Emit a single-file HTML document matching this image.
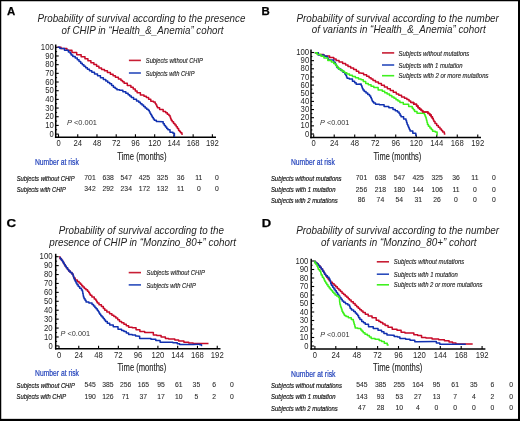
<!DOCTYPE html>
<html><head><meta charset="utf-8"><title>Survival curves</title>
<style>
html,body{margin:0;padding:0;background:#fff;}
body{width:520px;height:421px;overflow:hidden;}
svg{display:block;font-family:"Liberation Sans", sans-serif;will-change:transform;}
</style></head><body>
<svg width="520" height="421" viewBox="0 0 520 421">
<rect x="0" y="0" width="520" height="421" fill="#fff"/>
<line x1="55.70" y1="44.50" x2="55.70" y2="138.05" stroke="#000" stroke-width="1.5"/>
<line x1="54.95" y1="137.30" x2="216.00" y2="137.30" stroke="#000" stroke-width="1.5"/>
<line x1="55.70" y1="134.10" x2="58.70" y2="134.10" stroke="#000" stroke-width="1.1"/>
<text x="53.80" y="136.70" font-size="8.3" text-anchor="end" fill="#262626" textLength="4.2" lengthAdjust="spacingAndGlyphs">0</text>
<line x1="55.70" y1="125.42" x2="58.70" y2="125.42" stroke="#000" stroke-width="1.1"/>
<text x="53.80" y="128.02" font-size="8.3" text-anchor="end" fill="#262626" textLength="8.6" lengthAdjust="spacingAndGlyphs">10</text>
<line x1="55.70" y1="116.74" x2="58.70" y2="116.74" stroke="#000" stroke-width="1.1"/>
<text x="53.80" y="119.34" font-size="8.3" text-anchor="end" fill="#262626" textLength="8.6" lengthAdjust="spacingAndGlyphs">20</text>
<line x1="55.70" y1="108.06" x2="58.70" y2="108.06" stroke="#000" stroke-width="1.1"/>
<text x="53.80" y="110.66" font-size="8.3" text-anchor="end" fill="#262626" textLength="8.6" lengthAdjust="spacingAndGlyphs">30</text>
<line x1="55.70" y1="99.38" x2="58.70" y2="99.38" stroke="#000" stroke-width="1.1"/>
<text x="53.80" y="101.98" font-size="8.3" text-anchor="end" fill="#262626" textLength="8.6" lengthAdjust="spacingAndGlyphs">40</text>
<line x1="55.70" y1="90.70" x2="58.70" y2="90.70" stroke="#000" stroke-width="1.1"/>
<text x="53.80" y="93.30" font-size="8.3" text-anchor="end" fill="#262626" textLength="8.6" lengthAdjust="spacingAndGlyphs">50</text>
<line x1="55.70" y1="82.02" x2="58.70" y2="82.02" stroke="#000" stroke-width="1.1"/>
<text x="53.80" y="84.62" font-size="8.3" text-anchor="end" fill="#262626" textLength="8.6" lengthAdjust="spacingAndGlyphs">60</text>
<line x1="55.70" y1="73.34" x2="58.70" y2="73.34" stroke="#000" stroke-width="1.1"/>
<text x="53.80" y="75.94" font-size="8.3" text-anchor="end" fill="#262626" textLength="8.6" lengthAdjust="spacingAndGlyphs">70</text>
<line x1="55.70" y1="64.66" x2="58.70" y2="64.66" stroke="#000" stroke-width="1.1"/>
<text x="53.80" y="67.26" font-size="8.3" text-anchor="end" fill="#262626" textLength="8.6" lengthAdjust="spacingAndGlyphs">80</text>
<line x1="55.70" y1="55.98" x2="58.70" y2="55.98" stroke="#000" stroke-width="1.1"/>
<text x="53.80" y="58.58" font-size="8.3" text-anchor="end" fill="#262626" textLength="8.6" lengthAdjust="spacingAndGlyphs">90</text>
<line x1="55.70" y1="47.30" x2="58.70" y2="47.30" stroke="#000" stroke-width="1.1"/>
<text x="53.80" y="49.90" font-size="8.3" text-anchor="end" fill="#262626" textLength="13.0" lengthAdjust="spacingAndGlyphs">100</text>
<line x1="55.70" y1="129.76" x2="57.10" y2="129.76" stroke="#000" stroke-width="1.0"/>
<line x1="55.70" y1="121.08" x2="57.10" y2="121.08" stroke="#000" stroke-width="1.0"/>
<line x1="55.70" y1="112.40" x2="57.10" y2="112.40" stroke="#000" stroke-width="1.0"/>
<line x1="55.70" y1="103.72" x2="57.10" y2="103.72" stroke="#000" stroke-width="1.0"/>
<line x1="55.70" y1="95.04" x2="57.10" y2="95.04" stroke="#000" stroke-width="1.0"/>
<line x1="55.70" y1="86.36" x2="57.10" y2="86.36" stroke="#000" stroke-width="1.0"/>
<line x1="55.70" y1="77.68" x2="57.10" y2="77.68" stroke="#000" stroke-width="1.0"/>
<line x1="55.70" y1="69.00" x2="57.10" y2="69.00" stroke="#000" stroke-width="1.0"/>
<line x1="55.70" y1="60.32" x2="57.10" y2="60.32" stroke="#000" stroke-width="1.0"/>
<line x1="55.70" y1="51.64" x2="57.10" y2="51.64" stroke="#000" stroke-width="1.0"/>
<line x1="58.50" y1="137.30" x2="58.50" y2="134.30" stroke="#000" stroke-width="1.1"/>
<text x="58.50" y="146.10" font-size="8.3" text-anchor="middle" fill="#262626" textLength="4.2" lengthAdjust="spacingAndGlyphs">0</text>
<line x1="77.74" y1="137.30" x2="77.74" y2="134.30" stroke="#000" stroke-width="1.1"/>
<text x="77.74" y="146.10" font-size="8.3" text-anchor="middle" fill="#262626" textLength="8.6" lengthAdjust="spacingAndGlyphs">24</text>
<line x1="96.97" y1="137.30" x2="96.97" y2="134.30" stroke="#000" stroke-width="1.1"/>
<text x="96.97" y="146.10" font-size="8.3" text-anchor="middle" fill="#262626" textLength="8.6" lengthAdjust="spacingAndGlyphs">48</text>
<line x1="116.21" y1="137.30" x2="116.21" y2="134.30" stroke="#000" stroke-width="1.1"/>
<text x="116.21" y="146.10" font-size="8.3" text-anchor="middle" fill="#262626" textLength="8.6" lengthAdjust="spacingAndGlyphs">72</text>
<line x1="135.44" y1="137.30" x2="135.44" y2="134.30" stroke="#000" stroke-width="1.1"/>
<text x="135.44" y="146.10" font-size="8.3" text-anchor="middle" fill="#262626" textLength="8.6" lengthAdjust="spacingAndGlyphs">96</text>
<line x1="154.68" y1="137.30" x2="154.68" y2="134.30" stroke="#000" stroke-width="1.1"/>
<text x="154.68" y="146.10" font-size="8.3" text-anchor="middle" fill="#262626" textLength="12.9" lengthAdjust="spacingAndGlyphs">120</text>
<line x1="173.92" y1="137.30" x2="173.92" y2="134.30" stroke="#000" stroke-width="1.1"/>
<text x="173.92" y="146.10" font-size="8.3" text-anchor="middle" fill="#262626" textLength="12.9" lengthAdjust="spacingAndGlyphs">144</text>
<line x1="193.15" y1="137.30" x2="193.15" y2="134.30" stroke="#000" stroke-width="1.1"/>
<text x="193.15" y="146.10" font-size="8.3" text-anchor="middle" fill="#262626" textLength="12.9" lengthAdjust="spacingAndGlyphs">168</text>
<line x1="212.39" y1="137.30" x2="212.39" y2="134.30" stroke="#000" stroke-width="1.1"/>
<text x="212.39" y="146.10" font-size="8.3" text-anchor="middle" fill="#262626" textLength="12.9" lengthAdjust="spacingAndGlyphs">192</text>
<text x="117.20" y="160.40" font-size="10.3" text-anchor="start" fill="#222" textLength="49.3" lengthAdjust="spacingAndGlyphs" stroke="#222" stroke-width="0.12">Time (months)</text>
<text x="66.90" y="124.80" font-size="7.6" fill="#333" textLength="30.1" lengthAdjust="spacingAndGlyphs"><tspan font-style="italic">P</tspan> &lt;0.001</text>
<polyline points="57.60,47.30 61.05,47.30 61.05,48.50 64.50,48.50 66.90,48.50 66.90,50.30 69.30,50.30 71.95,50.30 71.95,52.50 74.60,52.50 76.70,52.50 76.70,54.80 78.80,54.80 81.15,54.80 81.15,56.80 83.50,56.80 84.97,56.80 84.97,58.80 87.93,58.80 87.93,60.80 89.40,60.80 90.90,60.80 90.90,62.70 93.90,62.70 93.90,64.60 95.40,64.60 96.58,64.60 96.58,66.35 98.92,66.35 98.92,68.10 100.10,68.10 101.55,68.10 101.55,69.40 104.45,69.40 104.45,70.70 105.90,70.70 107.40,70.70 107.40,72.50 110.40,72.50 110.40,74.30 111.90,74.30 113.08,74.30 113.08,75.75 115.42,75.75 115.42,77.20 116.60,77.20 118.40,77.20 118.40,79.00 120.20,79.00 120.98,79.00 120.98,80.40 122.55,80.40 122.55,81.80 124.12,81.80 124.12,83.20 124.90,83.20 127.30,83.20 127.30,85.50 129.70,85.50 130.88,85.50 130.88,87.30 133.22,87.30 133.22,89.10 134.40,89.10 135.30,89.10 135.30,90.90 137.10,90.90 137.10,92.70 138.00,92.70 140.40,92.70 140.40,95.00 142.80,95.00 143.98,95.00 143.98,96.20 146.32,96.20 146.32,97.40 147.50,97.40 148.60,97.40 148.60,99.35 150.80,99.35 150.80,101.30 151.90,101.30 153.35,101.30 153.35,101.90 154.80,101.90 155.18,101.90 155.18,103.38 155.93,103.38 155.93,104.85 156.68,104.85 156.68,106.33 157.43,106.33 157.43,107.80 157.80,107.80 159.60,107.80 159.60,109.60 161.40,109.60 163.15,109.60 163.15,111.40 164.90,111.40 165.70,111.40 165.70,112.77 167.30,112.77 167.30,114.13 168.90,114.13 168.90,115.50 169.70,115.50 170.00,115.50 170.00,117.10 170.60,117.10 170.60,118.70 171.20,118.70 171.20,120.30 171.50,120.30 172.18,120.30 172.18,121.87 173.55,121.87 173.55,123.43 174.92,123.43 174.92,125.00 175.60,125.00 176.20,125.00 176.20,126.80 177.40,126.80 177.40,128.60 178.60,128.60 178.60,130.40 179.20,130.40 179.65,130.40 179.65,131.60 180.55,131.60 180.55,132.80 181.00,132.80 181.90,132.80 181.90,134.20 182.80,134.20" fill="none" stroke="#c80a28" stroke-width="1.5" stroke-linejoin="round" stroke-linecap="butt"/>
<polyline points="57.60,47.30 59.85,47.30 59.85,48.50 62.10,48.50 64.50,48.50 64.50,50.30 66.90,50.30 68.35,50.30 68.35,52.10 69.80,52.10 70.25,52.10 70.25,53.60 71.15,53.60 71.15,55.10 71.60,55.10 72.80,55.10 72.80,56.55 75.20,56.55 75.20,58.00 76.40,58.00 77.28,58.00 77.28,59.80 79.03,59.80 79.03,61.60 79.90,61.60 80.70,61.60 80.70,63.17 82.30,63.17 82.30,64.73 83.90,64.73 83.90,66.30 84.70,66.30 85.60,66.30 85.60,67.80 87.40,67.80 87.40,69.30 88.30,69.30 89.47,69.30 89.47,70.80 91.83,70.80 91.83,72.30 93.00,72.30 94.50,72.30 94.50,74.05 97.50,74.05 97.50,75.80 99.00,75.80 100.45,75.80 100.45,77.70 103.35,77.70 103.35,79.60 104.80,79.60 105.78,79.60 105.78,81.00 107.75,81.00 107.75,82.40 109.72,82.40 109.72,83.80 110.70,83.80 111.60,83.80 111.60,85.55 113.40,85.55 113.40,87.30 114.30,87.30 115.17,87.30 115.17,88.50 116.92,88.50 116.92,89.70 117.80,89.70 119.60,89.70 119.60,90.30 121.40,90.30 122.88,90.30 122.88,91.80 125.83,91.80 125.83,93.30 127.30,93.30 128.10,93.30 128.10,94.67 129.70,94.67 129.70,96.03 131.30,96.03 131.30,97.40 132.10,97.40 133.57,97.40 133.57,99.20 136.53,99.20 136.53,101.00 138.00,101.00 138.80,101.00 138.80,102.37 140.40,102.37 140.40,103.73 142.00,103.73 142.00,105.10 142.80,105.10 143.58,105.10 143.58,106.50 145.15,106.50 145.15,107.90 146.72,107.90 146.72,109.30 147.50,109.30 148.20,109.30 148.20,110.20 148.90,110.20 149.28,110.20 149.28,111.67 150.03,111.67 150.03,113.15 150.78,113.15 150.78,114.62 151.53,114.62 151.53,116.10 151.90,116.10 152.38,116.10 152.38,117.50 153.35,117.50 153.35,118.90 154.32,118.90 154.32,120.30 154.80,120.30 156.30,120.30 156.30,121.50 157.80,121.50 162.60,121.80 163.18,121.80 163.18,123.70 164.32,123.70 164.32,125.60 164.90,125.60 165.50,125.60 165.50,127.00 166.70,127.00 166.70,128.40 167.90,128.40 167.90,129.80 168.50,129.80 170.00,129.80 170.00,132.20 171.50,132.20 172.95,132.20 172.95,133.30 174.40,133.30 174.40,136.90" fill="none" stroke="#1030b0" stroke-width="1.5" stroke-linejoin="round" stroke-linecap="butt"/>
<line x1="128.90" y1="60.40" x2="140.90" y2="60.40" stroke="#c81e34" stroke-width="1.6"/>
<text x="145.80" y="63.00" font-size="7.8" text-anchor="start" font-style="italic" fill="#1e1e1e" textLength="57.1" lengthAdjust="spacingAndGlyphs" stroke="#1e1e1e" stroke-width="0.15">Subjects without CHIP</text>
<line x1="128.90" y1="73.00" x2="140.90" y2="73.00" stroke="#2a4cbc" stroke-width="1.6"/>
<text x="145.80" y="75.60" font-size="7.8" text-anchor="start" font-style="italic" fill="#1e1e1e" textLength="48.7" lengthAdjust="spacingAndGlyphs" stroke="#1e1e1e" stroke-width="0.15">Subjects with CHIP</text>
<text x="34.90" y="164.90" font-size="8.3" text-anchor="start" fill="#2444bc" textLength="44.0" lengthAdjust="spacingAndGlyphs" stroke="#2444bc" stroke-width="0.2">Number at risk</text>
<text x="16.70" y="181.00" font-size="8.0" text-anchor="start" font-style="italic" fill="#151515" textLength="57.9" lengthAdjust="spacingAndGlyphs" stroke="#151515" stroke-width="0.2">Subjects without CHIP</text>
<text x="90.00" y="180.40" font-size="6.8" text-anchor="middle" fill="#2a2a2a" stroke="#2a2a2a" stroke-width="0.08">701</text>
<text x="108.13" y="180.40" font-size="6.8" text-anchor="middle" fill="#2a2a2a" stroke="#2a2a2a" stroke-width="0.08">638</text>
<text x="126.26" y="180.40" font-size="6.8" text-anchor="middle" fill="#2a2a2a" stroke="#2a2a2a" stroke-width="0.08">547</text>
<text x="144.39" y="180.40" font-size="6.8" text-anchor="middle" fill="#2a2a2a" stroke="#2a2a2a" stroke-width="0.08">425</text>
<text x="162.52" y="180.40" font-size="6.8" text-anchor="middle" fill="#2a2a2a" stroke="#2a2a2a" stroke-width="0.08">325</text>
<text x="180.65" y="180.40" font-size="6.8" text-anchor="middle" fill="#2a2a2a" stroke="#2a2a2a" stroke-width="0.08">36</text>
<text x="198.78" y="180.40" font-size="6.8" text-anchor="middle" fill="#2a2a2a" stroke="#2a2a2a" stroke-width="0.08">11</text>
<text x="216.91" y="180.40" font-size="6.8" text-anchor="middle" fill="#2a2a2a" stroke="#2a2a2a" stroke-width="0.08">0</text>
<text x="16.70" y="192.00" font-size="8.0" text-anchor="start" font-style="italic" fill="#151515" textLength="49.1" lengthAdjust="spacingAndGlyphs" stroke="#151515" stroke-width="0.2">Subjects with CHIP</text>
<text x="90.00" y="191.40" font-size="6.8" text-anchor="middle" fill="#2a2a2a" stroke="#2a2a2a" stroke-width="0.08">342</text>
<text x="108.13" y="191.40" font-size="6.8" text-anchor="middle" fill="#2a2a2a" stroke="#2a2a2a" stroke-width="0.08">292</text>
<text x="126.26" y="191.40" font-size="6.8" text-anchor="middle" fill="#2a2a2a" stroke="#2a2a2a" stroke-width="0.08">234</text>
<text x="144.39" y="191.40" font-size="6.8" text-anchor="middle" fill="#2a2a2a" stroke="#2a2a2a" stroke-width="0.08">172</text>
<text x="162.52" y="191.40" font-size="6.8" text-anchor="middle" fill="#2a2a2a" stroke="#2a2a2a" stroke-width="0.08">132</text>
<text x="180.65" y="191.40" font-size="6.8" text-anchor="middle" fill="#2a2a2a" stroke="#2a2a2a" stroke-width="0.08">11</text>
<text x="198.78" y="191.40" font-size="6.8" text-anchor="middle" fill="#2a2a2a" stroke="#2a2a2a" stroke-width="0.08">0</text>
<text x="216.91" y="191.40" font-size="6.8" text-anchor="middle" fill="#2a2a2a" stroke="#2a2a2a" stroke-width="0.08">0</text>
<text x="37.40" y="22.40" font-size="10.1" text-anchor="start" font-style="italic" fill="#1e1e1e" textLength="208.0" lengthAdjust="spacingAndGlyphs">Probability of survival according to the presence</text>
<text x="61.60" y="33.60" font-size="10.1" text-anchor="start" font-style="italic" fill="#1e1e1e" textLength="161.9" lengthAdjust="spacingAndGlyphs">of CHIP in “Health_&amp;_Anemia” cohort</text>
<text x="7.10" y="15.00" font-size="11.4" text-anchor="start" font-weight="bold" fill="#000" stroke="#000" stroke-width="0.25">A</text>
<line x1="311.00" y1="49.40" x2="311.00" y2="138.25" stroke="#000" stroke-width="1.5"/>
<line x1="310.25" y1="137.50" x2="481.00" y2="137.50" stroke="#000" stroke-width="1.5"/>
<line x1="311.00" y1="134.00" x2="314.00" y2="134.00" stroke="#000" stroke-width="1.1"/>
<text x="309.20" y="136.60" font-size="8.3" text-anchor="end" fill="#262626" textLength="4.2" lengthAdjust="spacingAndGlyphs">0</text>
<line x1="311.00" y1="125.85" x2="314.00" y2="125.85" stroke="#000" stroke-width="1.1"/>
<text x="309.20" y="128.45" font-size="8.3" text-anchor="end" fill="#262626" textLength="8.6" lengthAdjust="spacingAndGlyphs">10</text>
<line x1="311.00" y1="117.70" x2="314.00" y2="117.70" stroke="#000" stroke-width="1.1"/>
<text x="309.20" y="120.30" font-size="8.3" text-anchor="end" fill="#262626" textLength="8.6" lengthAdjust="spacingAndGlyphs">20</text>
<line x1="311.00" y1="109.55" x2="314.00" y2="109.55" stroke="#000" stroke-width="1.1"/>
<text x="309.20" y="112.15" font-size="8.3" text-anchor="end" fill="#262626" textLength="8.6" lengthAdjust="spacingAndGlyphs">30</text>
<line x1="311.00" y1="101.40" x2="314.00" y2="101.40" stroke="#000" stroke-width="1.1"/>
<text x="309.20" y="104.00" font-size="8.3" text-anchor="end" fill="#262626" textLength="8.6" lengthAdjust="spacingAndGlyphs">40</text>
<line x1="311.00" y1="93.25" x2="314.00" y2="93.25" stroke="#000" stroke-width="1.1"/>
<text x="309.20" y="95.85" font-size="8.3" text-anchor="end" fill="#262626" textLength="8.6" lengthAdjust="spacingAndGlyphs">50</text>
<line x1="311.00" y1="85.10" x2="314.00" y2="85.10" stroke="#000" stroke-width="1.1"/>
<text x="309.20" y="87.70" font-size="8.3" text-anchor="end" fill="#262626" textLength="8.6" lengthAdjust="spacingAndGlyphs">60</text>
<line x1="311.00" y1="76.95" x2="314.00" y2="76.95" stroke="#000" stroke-width="1.1"/>
<text x="309.20" y="79.55" font-size="8.3" text-anchor="end" fill="#262626" textLength="8.6" lengthAdjust="spacingAndGlyphs">70</text>
<line x1="311.00" y1="68.80" x2="314.00" y2="68.80" stroke="#000" stroke-width="1.1"/>
<text x="309.20" y="71.40" font-size="8.3" text-anchor="end" fill="#262626" textLength="8.6" lengthAdjust="spacingAndGlyphs">80</text>
<line x1="311.00" y1="60.65" x2="314.00" y2="60.65" stroke="#000" stroke-width="1.1"/>
<text x="309.20" y="63.25" font-size="8.3" text-anchor="end" fill="#262626" textLength="8.6" lengthAdjust="spacingAndGlyphs">90</text>
<line x1="311.00" y1="52.50" x2="314.00" y2="52.50" stroke="#000" stroke-width="1.1"/>
<text x="309.20" y="55.10" font-size="8.3" text-anchor="end" fill="#262626" textLength="13.0" lengthAdjust="spacingAndGlyphs">100</text>
<line x1="311.00" y1="129.93" x2="312.40" y2="129.93" stroke="#000" stroke-width="1.0"/>
<line x1="311.00" y1="121.78" x2="312.40" y2="121.78" stroke="#000" stroke-width="1.0"/>
<line x1="311.00" y1="113.62" x2="312.40" y2="113.62" stroke="#000" stroke-width="1.0"/>
<line x1="311.00" y1="105.47" x2="312.40" y2="105.47" stroke="#000" stroke-width="1.0"/>
<line x1="311.00" y1="97.33" x2="312.40" y2="97.33" stroke="#000" stroke-width="1.0"/>
<line x1="311.00" y1="89.18" x2="312.40" y2="89.18" stroke="#000" stroke-width="1.0"/>
<line x1="311.00" y1="81.03" x2="312.40" y2="81.03" stroke="#000" stroke-width="1.0"/>
<line x1="311.00" y1="72.88" x2="312.40" y2="72.88" stroke="#000" stroke-width="1.0"/>
<line x1="311.00" y1="64.73" x2="312.40" y2="64.73" stroke="#000" stroke-width="1.0"/>
<line x1="311.00" y1="56.58" x2="312.40" y2="56.58" stroke="#000" stroke-width="1.0"/>
<line x1="313.70" y1="137.50" x2="313.70" y2="134.50" stroke="#000" stroke-width="1.1"/>
<text x="313.70" y="145.90" font-size="8.3" text-anchor="middle" fill="#262626" textLength="4.2" lengthAdjust="spacingAndGlyphs">0</text>
<line x1="334.21" y1="137.50" x2="334.21" y2="134.50" stroke="#000" stroke-width="1.1"/>
<text x="334.21" y="145.90" font-size="8.3" text-anchor="middle" fill="#262626" textLength="8.6" lengthAdjust="spacingAndGlyphs">24</text>
<line x1="354.72" y1="137.50" x2="354.72" y2="134.50" stroke="#000" stroke-width="1.1"/>
<text x="354.72" y="145.90" font-size="8.3" text-anchor="middle" fill="#262626" textLength="8.6" lengthAdjust="spacingAndGlyphs">48</text>
<line x1="375.22" y1="137.50" x2="375.22" y2="134.50" stroke="#000" stroke-width="1.1"/>
<text x="375.22" y="145.90" font-size="8.3" text-anchor="middle" fill="#262626" textLength="8.6" lengthAdjust="spacingAndGlyphs">72</text>
<line x1="395.73" y1="137.50" x2="395.73" y2="134.50" stroke="#000" stroke-width="1.1"/>
<text x="395.73" y="145.90" font-size="8.3" text-anchor="middle" fill="#262626" textLength="8.6" lengthAdjust="spacingAndGlyphs">96</text>
<line x1="416.24" y1="137.50" x2="416.24" y2="134.50" stroke="#000" stroke-width="1.1"/>
<text x="416.24" y="145.90" font-size="8.3" text-anchor="middle" fill="#262626" textLength="12.9" lengthAdjust="spacingAndGlyphs">120</text>
<line x1="436.75" y1="137.50" x2="436.75" y2="134.50" stroke="#000" stroke-width="1.1"/>
<text x="436.75" y="145.90" font-size="8.3" text-anchor="middle" fill="#262626" textLength="12.9" lengthAdjust="spacingAndGlyphs">144</text>
<line x1="457.26" y1="137.50" x2="457.26" y2="134.50" stroke="#000" stroke-width="1.1"/>
<text x="457.26" y="145.90" font-size="8.3" text-anchor="middle" fill="#262626" textLength="12.9" lengthAdjust="spacingAndGlyphs">168</text>
<line x1="477.76" y1="137.50" x2="477.76" y2="134.50" stroke="#000" stroke-width="1.1"/>
<text x="477.76" y="145.90" font-size="8.3" text-anchor="middle" fill="#262626" textLength="12.9" lengthAdjust="spacingAndGlyphs">192</text>
<text x="373.50" y="160.40" font-size="10.3" text-anchor="start" fill="#222" textLength="47.8" lengthAdjust="spacingAndGlyphs" stroke="#222" stroke-width="0.12">Time (months)</text>
<text x="320.10" y="125.00" font-size="7.6" fill="#333" textLength="29.3" lengthAdjust="spacingAndGlyphs"><tspan font-style="italic">P</tspan> &lt;0.001</text>
<polyline points="314.80,52.80 317.75,52.80 317.75,54.50 320.70,54.50 323.65,54.50 323.65,56.10 326.60,56.10 329.60,56.10 329.60,57.50 332.60,57.50 333.78,57.50 333.78,59.00 336.12,59.00 336.12,60.50 337.30,60.50 339.07,60.50 339.07,61.95 342.62,61.95 342.62,63.40 344.40,63.40 345.60,63.40 345.60,64.90 348.00,64.90 348.00,66.40 349.20,66.40 350.68,66.40 350.68,67.90 353.62,67.90 353.62,69.40 355.10,69.40 356.33,69.40 356.33,71.15 358.77,71.15 358.77,72.90 360.00,72.90 361.05,72.90 361.05,73.30 362.10,73.30 363.60,73.30 363.60,74.80 366.60,74.80 366.60,76.30 368.10,76.30 369.08,76.30 369.08,77.67 371.05,77.67 371.05,79.03 373.02,79.03 373.02,80.40 374.00,80.40 375.48,80.40 375.48,81.90 378.42,81.90 378.42,83.40 379.90,83.40 381.40,83.40 381.40,85.20 384.40,85.20 384.40,87.00 385.90,87.00 387.38,87.00 387.38,88.75 390.32,88.75 390.32,90.50 391.80,90.50 393.30,90.50 393.30,92.30 396.30,92.30 396.30,94.10 397.80,94.10 398.80,94.10 398.80,95.30 399.80,95.30 401.55,95.30 401.55,97.10 403.30,97.10 404.50,97.10 404.50,98.30 406.90,98.30 406.90,99.50 408.10,99.50 408.98,99.50 408.98,101.00 410.73,101.00 410.73,102.50 411.60,102.50 413.70,102.50 413.70,104.30 415.80,104.30 416.55,104.30 416.55,106.05 418.05,106.05 418.05,107.80 418.80,107.80 419.58,107.80 419.58,109.20 421.15,109.20 421.15,110.60 422.72,110.60 422.72,112.00 423.50,112.00 427.10,112.00 427.98,112.00 427.98,113.45 429.73,113.45 429.73,114.90 430.60,114.90 431.20,114.90 431.20,116.70 432.40,116.70 432.40,118.50 433.00,118.50 433.30,118.50 433.30,120.05 433.90,120.05 433.90,121.60 434.20,121.60 435.02,121.60 435.02,123.50 436.68,123.50 436.68,125.40 437.50,125.40 438.32,125.40 438.32,127.25 439.98,127.25 439.98,129.10 440.80,129.10 441.43,129.10 441.43,130.55 442.68,130.55 442.68,132.00 443.30,132.00 444.35,132.00 444.35,134.10 445.40,134.10" fill="none" stroke="#c80a28" stroke-width="1.5" stroke-linejoin="round" stroke-linecap="butt"/>
<polyline points="314.80,52.80 318.35,52.80 318.35,55.10 321.90,55.10 324.25,55.10 324.25,56.30 326.60,56.30 327.20,56.30 327.20,58.10 328.40,58.10 328.40,59.90 329.00,59.90 332.60,59.90 333.75,59.90 333.75,62.30 334.90,62.30 335.30,62.30 335.30,64.07 336.10,64.07 336.10,65.83 336.90,65.83 336.90,67.60 337.30,67.60 338.50,67.60 338.50,69.10 340.90,69.10 340.90,70.60 342.10,70.60 342.98,70.60 342.98,72.35 344.73,72.35 344.73,74.10 345.60,74.10 345.90,74.10 345.90,75.50 346.50,75.50 346.50,76.90 347.10,76.90 347.10,78.30 347.40,78.30 349.20,78.30 349.20,79.10 351.00,79.10 352.45,79.10 352.45,81.30 353.90,81.30 354.65,81.30 354.65,82.75 356.15,82.75 356.15,84.20 356.90,84.20 360.90,84.00 361.20,84.00 361.20,85.47 361.80,85.47 361.80,86.95 362.40,86.95 362.40,88.43 363.00,88.43 363.00,89.90 363.30,89.90 364.20,89.90 364.20,91.40 366.00,91.40 366.00,92.90 366.90,92.90 367.77,92.90 367.77,94.40 369.52,94.40 369.52,95.90 370.40,95.90 370.70,95.90 370.70,97.38 371.30,97.38 371.30,98.85 371.90,98.85 371.90,100.33 372.50,100.33 372.50,101.80 372.80,101.80 373.70,101.80 373.70,103.00 375.50,103.00 375.50,104.20 376.40,104.20 379.35,104.20 379.35,104.80 382.30,104.80 384.10,104.80 384.10,106.60 385.90,106.60 388.85,106.60 388.85,107.80 391.80,107.80 393.00,107.80 393.00,109.50 394.20,109.50 395.30,109.50 395.30,110.75 397.50,110.75 397.50,112.00 398.60,112.00 399.08,112.00 399.08,113.57 400.05,113.57 400.05,115.13 401.02,115.13 401.02,116.70 401.50,116.70 403.60,116.70 403.60,119.10 405.70,119.10 406.00,119.10 406.00,120.87 406.60,120.87 406.60,122.63 407.20,122.63 407.20,124.40 407.50,124.40 407.86,124.40 407.86,126.05 408.59,126.05 408.59,127.70 409.31,127.70 409.31,129.35 410.04,129.35 410.04,131.00 410.40,131.00 412.80,131.00 412.80,133.30 415.20,133.30 415.80,133.30 415.80,135.50 416.40,135.50" fill="none" stroke="#1030b0" stroke-width="1.5" stroke-linejoin="round" stroke-linecap="butt"/>
<polyline points="314.80,52.80 317.15,52.80 317.15,54.50 319.50,54.50 320.98,54.50 320.98,56.30 323.92,56.30 323.92,58.10 325.40,58.10 327.80,58.10 327.80,60.50 330.20,60.50 331.38,60.50 331.38,61.95 333.72,61.95 333.72,63.40 334.90,63.40 335.50,63.40 335.50,65.00 336.70,65.00 336.70,66.60 337.90,66.60 337.90,68.20 338.50,68.20 339.70,68.20 339.70,69.70 342.10,69.70 342.10,71.20 343.30,71.20 344.48,71.20 344.48,72.65 346.82,72.65 346.82,74.10 348.00,74.10 349.48,74.10 349.48,75.30 352.42,75.30 352.42,76.50 353.90,76.50 355.42,76.50 355.42,77.70 358.48,77.70 358.48,78.90 360.00,78.90 361.05,78.90 361.05,79.80 362.10,79.80 363.30,79.80 363.30,81.60 365.70,81.60 365.70,83.40 366.90,83.40 368.28,83.40 368.28,84.80 371.05,84.80 371.05,86.20 373.82,86.20 373.82,87.60 375.20,87.60 378.15,87.60 378.15,89.90 381.10,89.90 382.30,89.90 382.30,91.30 384.70,91.30 384.70,92.70 387.10,92.70 387.10,94.10 388.30,94.10 389.48,94.10 389.48,95.60 391.82,95.60 391.82,97.10 393.00,97.10 394.00,97.10 394.00,98.30 395.00,98.30 395.98,98.30 395.98,99.70 397.95,99.70 397.95,101.10 399.92,101.10 399.92,102.50 400.90,102.50 403.30,102.50 403.30,104.30 405.70,104.30 408.65,104.30 408.65,106.60 411.60,106.60 412.20,106.60 412.20,108.20 413.40,108.20 413.40,109.80 414.60,109.80 414.60,111.40 415.20,111.40 417.00,111.40 417.00,113.20 418.80,113.20 424.10,113.20 424.40,113.20 424.40,114.57 425.00,114.57 425.00,115.93 425.60,115.93 425.60,117.30 425.90,117.30 426.12,117.30 426.12,119.08 426.57,119.08 426.57,120.85 427.02,120.85 427.02,122.62 427.47,122.62 427.47,124.40 427.70,124.40 428.43,124.40 428.43,126.20 429.88,126.20 429.88,128.00 430.60,128.00 431.28,128.00 431.28,129.60 432.62,129.60 432.62,131.20 433.30,131.20 435.20,131.20 435.20,132.00 437.10,132.00 437.10,135.50" fill="none" stroke="#3cf01a" stroke-width="1.5" stroke-linejoin="round" stroke-linecap="butt"/>
<polyline points="411.60,102.50 413.70,102.50 413.70,104.30 415.80,104.30 416.55,104.30 416.55,106.05 418.05,106.05 418.05,107.80 418.80,107.80 419.58,107.80 419.58,109.20 421.15,109.20 421.15,110.60 422.72,110.60 422.72,112.00 423.50,112.00 427.10,112.00 427.98,112.00 427.98,113.45 429.73,113.45 429.73,114.90 430.60,114.90 431.20,114.90 431.20,116.70 432.40,116.70 432.40,118.50 433.00,118.50" fill="none" stroke="#c80a28" stroke-width="1.5" stroke-linejoin="round" stroke-linecap="butt"/>
<line x1="382.00" y1="52.90" x2="394.20" y2="52.90" stroke="#c81e34" stroke-width="1.6"/>
<text x="398.60" y="55.50" font-size="7.8" text-anchor="start" font-style="italic" fill="#1e1e1e" textLength="70.7" lengthAdjust="spacingAndGlyphs" stroke="#1e1e1e" stroke-width="0.15">Subjects without mutations</text>
<line x1="382.00" y1="65.00" x2="394.20" y2="65.00" stroke="#2a4cbc" stroke-width="1.6"/>
<text x="398.60" y="67.60" font-size="7.8" text-anchor="start" font-style="italic" fill="#1e1e1e" textLength="64.0" lengthAdjust="spacingAndGlyphs" stroke="#1e1e1e" stroke-width="0.15">Subjects with 1 mutation</text>
<line x1="382.00" y1="75.70" x2="394.20" y2="75.70" stroke="#40f020" stroke-width="1.6"/>
<text x="398.60" y="78.30" font-size="7.8" text-anchor="start" font-style="italic" fill="#1e1e1e" textLength="89.9" lengthAdjust="spacingAndGlyphs" stroke="#1e1e1e" stroke-width="0.15">Subjects with 2 or more  mutations</text>
<text x="291.00" y="164.70" font-size="8.3" text-anchor="start" fill="#2444bc" textLength="43.8" lengthAdjust="spacingAndGlyphs" stroke="#2444bc" stroke-width="0.2">Number at risk</text>
<text x="270.90" y="180.80" font-size="8.0" text-anchor="start" font-style="italic" fill="#151515" textLength="70.6" lengthAdjust="spacingAndGlyphs" stroke="#151515" stroke-width="0.2">Subjects without mutations</text>
<text x="361.50" y="180.20" font-size="6.8" text-anchor="middle" fill="#2a2a2a" stroke="#2a2a2a" stroke-width="0.08">701</text>
<text x="380.40" y="180.20" font-size="6.8" text-anchor="middle" fill="#2a2a2a" stroke="#2a2a2a" stroke-width="0.08">638</text>
<text x="399.30" y="180.20" font-size="6.8" text-anchor="middle" fill="#2a2a2a" stroke="#2a2a2a" stroke-width="0.08">547</text>
<text x="418.20" y="180.20" font-size="6.8" text-anchor="middle" fill="#2a2a2a" stroke="#2a2a2a" stroke-width="0.08">425</text>
<text x="437.10" y="180.20" font-size="6.8" text-anchor="middle" fill="#2a2a2a" stroke="#2a2a2a" stroke-width="0.08">325</text>
<text x="456.00" y="180.20" font-size="6.8" text-anchor="middle" fill="#2a2a2a" stroke="#2a2a2a" stroke-width="0.08">36</text>
<text x="474.90" y="180.20" font-size="6.8" text-anchor="middle" fill="#2a2a2a" stroke="#2a2a2a" stroke-width="0.08">11</text>
<text x="493.80" y="180.20" font-size="6.8" text-anchor="middle" fill="#2a2a2a" stroke="#2a2a2a" stroke-width="0.08">0</text>
<text x="270.90" y="192.10" font-size="8.0" text-anchor="start" font-style="italic" fill="#151515" textLength="64.6" lengthAdjust="spacingAndGlyphs" stroke="#151515" stroke-width="0.2">Subjects with 1 mutation</text>
<text x="361.50" y="191.50" font-size="6.8" text-anchor="middle" fill="#2a2a2a" stroke="#2a2a2a" stroke-width="0.08">256</text>
<text x="380.40" y="191.50" font-size="6.8" text-anchor="middle" fill="#2a2a2a" stroke="#2a2a2a" stroke-width="0.08">218</text>
<text x="399.30" y="191.50" font-size="6.8" text-anchor="middle" fill="#2a2a2a" stroke="#2a2a2a" stroke-width="0.08">180</text>
<text x="418.20" y="191.50" font-size="6.8" text-anchor="middle" fill="#2a2a2a" stroke="#2a2a2a" stroke-width="0.08">144</text>
<text x="437.10" y="191.50" font-size="6.8" text-anchor="middle" fill="#2a2a2a" stroke="#2a2a2a" stroke-width="0.08">106</text>
<text x="456.00" y="191.50" font-size="6.8" text-anchor="middle" fill="#2a2a2a" stroke="#2a2a2a" stroke-width="0.08">11</text>
<text x="474.90" y="191.50" font-size="6.8" text-anchor="middle" fill="#2a2a2a" stroke="#2a2a2a" stroke-width="0.08">0</text>
<text x="493.80" y="191.50" font-size="6.8" text-anchor="middle" fill="#2a2a2a" stroke="#2a2a2a" stroke-width="0.08">0</text>
<text x="270.90" y="202.60" font-size="8.0" text-anchor="start" font-style="italic" fill="#151515" textLength="66.8" lengthAdjust="spacingAndGlyphs" stroke="#151515" stroke-width="0.2">Subjects with 2 mutations</text>
<text x="361.50" y="202.00" font-size="6.8" text-anchor="middle" fill="#2a2a2a" stroke="#2a2a2a" stroke-width="0.08">86</text>
<text x="380.40" y="202.00" font-size="6.8" text-anchor="middle" fill="#2a2a2a" stroke="#2a2a2a" stroke-width="0.08">74</text>
<text x="399.30" y="202.00" font-size="6.8" text-anchor="middle" fill="#2a2a2a" stroke="#2a2a2a" stroke-width="0.08">54</text>
<text x="418.20" y="202.00" font-size="6.8" text-anchor="middle" fill="#2a2a2a" stroke="#2a2a2a" stroke-width="0.08">31</text>
<text x="437.10" y="202.00" font-size="6.8" text-anchor="middle" fill="#2a2a2a" stroke="#2a2a2a" stroke-width="0.08">26</text>
<text x="456.00" y="202.00" font-size="6.8" text-anchor="middle" fill="#2a2a2a" stroke="#2a2a2a" stroke-width="0.08">0</text>
<text x="474.90" y="202.00" font-size="6.8" text-anchor="middle" fill="#2a2a2a" stroke="#2a2a2a" stroke-width="0.08">0</text>
<text x="493.80" y="202.00" font-size="6.8" text-anchor="middle" fill="#2a2a2a" stroke="#2a2a2a" stroke-width="0.08">0</text>
<text x="296.50" y="22.00" font-size="10.1" text-anchor="start" font-style="italic" fill="#1e1e1e" textLength="202.4" lengthAdjust="spacingAndGlyphs">Probability of survival according to the number</text>
<text x="311.80" y="33.10" font-size="10.1" text-anchor="start" font-style="italic" fill="#1e1e1e" textLength="173.9" lengthAdjust="spacingAndGlyphs">of variants in “Health_&amp;_Anemia” cohort</text>
<text x="261.60" y="15.40" font-size="11.4" text-anchor="start" font-weight="bold" fill="#000" stroke="#000" stroke-width="0.25">B</text>
<line x1="55.70" y1="253.80" x2="55.70" y2="349.55" stroke="#000" stroke-width="1.5"/>
<line x1="54.95" y1="348.80" x2="220.50" y2="348.80" stroke="#000" stroke-width="1.5"/>
<line x1="55.70" y1="345.90" x2="58.70" y2="345.90" stroke="#000" stroke-width="1.1"/>
<text x="52.60" y="348.50" font-size="8.3" text-anchor="end" fill="#262626" textLength="4.2" lengthAdjust="spacingAndGlyphs">0</text>
<line x1="55.70" y1="336.98" x2="58.70" y2="336.98" stroke="#000" stroke-width="1.1"/>
<text x="52.60" y="339.58" font-size="8.3" text-anchor="end" fill="#262626" textLength="8.6" lengthAdjust="spacingAndGlyphs">10</text>
<line x1="55.70" y1="328.06" x2="58.70" y2="328.06" stroke="#000" stroke-width="1.1"/>
<text x="52.60" y="330.66" font-size="8.3" text-anchor="end" fill="#262626" textLength="8.6" lengthAdjust="spacingAndGlyphs">20</text>
<line x1="55.70" y1="319.14" x2="58.70" y2="319.14" stroke="#000" stroke-width="1.1"/>
<text x="52.60" y="321.74" font-size="8.3" text-anchor="end" fill="#262626" textLength="8.6" lengthAdjust="spacingAndGlyphs">30</text>
<line x1="55.70" y1="310.22" x2="58.70" y2="310.22" stroke="#000" stroke-width="1.1"/>
<text x="52.60" y="312.82" font-size="8.3" text-anchor="end" fill="#262626" textLength="8.6" lengthAdjust="spacingAndGlyphs">40</text>
<line x1="55.70" y1="301.30" x2="58.70" y2="301.30" stroke="#000" stroke-width="1.1"/>
<text x="52.60" y="303.90" font-size="8.3" text-anchor="end" fill="#262626" textLength="8.6" lengthAdjust="spacingAndGlyphs">50</text>
<line x1="55.70" y1="292.38" x2="58.70" y2="292.38" stroke="#000" stroke-width="1.1"/>
<text x="52.60" y="294.98" font-size="8.3" text-anchor="end" fill="#262626" textLength="8.6" lengthAdjust="spacingAndGlyphs">60</text>
<line x1="55.70" y1="283.46" x2="58.70" y2="283.46" stroke="#000" stroke-width="1.1"/>
<text x="52.60" y="286.06" font-size="8.3" text-anchor="end" fill="#262626" textLength="8.6" lengthAdjust="spacingAndGlyphs">70</text>
<line x1="55.70" y1="274.54" x2="58.70" y2="274.54" stroke="#000" stroke-width="1.1"/>
<text x="52.60" y="277.14" font-size="8.3" text-anchor="end" fill="#262626" textLength="8.6" lengthAdjust="spacingAndGlyphs">80</text>
<line x1="55.70" y1="265.62" x2="58.70" y2="265.62" stroke="#000" stroke-width="1.1"/>
<text x="52.60" y="268.22" font-size="8.3" text-anchor="end" fill="#262626" textLength="8.6" lengthAdjust="spacingAndGlyphs">90</text>
<line x1="55.70" y1="256.70" x2="58.70" y2="256.70" stroke="#000" stroke-width="1.1"/>
<text x="52.60" y="259.30" font-size="8.3" text-anchor="end" fill="#262626" textLength="13.0" lengthAdjust="spacingAndGlyphs">100</text>
<line x1="55.70" y1="341.44" x2="57.10" y2="341.44" stroke="#000" stroke-width="1.0"/>
<line x1="55.70" y1="332.52" x2="57.10" y2="332.52" stroke="#000" stroke-width="1.0"/>
<line x1="55.70" y1="323.60" x2="57.10" y2="323.60" stroke="#000" stroke-width="1.0"/>
<line x1="55.70" y1="314.68" x2="57.10" y2="314.68" stroke="#000" stroke-width="1.0"/>
<line x1="55.70" y1="305.76" x2="57.10" y2="305.76" stroke="#000" stroke-width="1.0"/>
<line x1="55.70" y1="296.84" x2="57.10" y2="296.84" stroke="#000" stroke-width="1.0"/>
<line x1="55.70" y1="287.92" x2="57.10" y2="287.92" stroke="#000" stroke-width="1.0"/>
<line x1="55.70" y1="279.00" x2="57.10" y2="279.00" stroke="#000" stroke-width="1.0"/>
<line x1="55.70" y1="270.08" x2="57.10" y2="270.08" stroke="#000" stroke-width="1.0"/>
<line x1="55.70" y1="261.16" x2="57.10" y2="261.16" stroke="#000" stroke-width="1.0"/>
<line x1="59.00" y1="348.80" x2="59.00" y2="345.80" stroke="#000" stroke-width="1.1"/>
<text x="59.00" y="358.00" font-size="8.3" text-anchor="middle" fill="#262626" textLength="4.2" lengthAdjust="spacingAndGlyphs">0</text>
<line x1="78.78" y1="348.80" x2="78.78" y2="345.80" stroke="#000" stroke-width="1.1"/>
<text x="78.78" y="358.00" font-size="8.3" text-anchor="middle" fill="#262626" textLength="8.6" lengthAdjust="spacingAndGlyphs">24</text>
<line x1="98.56" y1="348.80" x2="98.56" y2="345.80" stroke="#000" stroke-width="1.1"/>
<text x="98.56" y="358.00" font-size="8.3" text-anchor="middle" fill="#262626" textLength="8.6" lengthAdjust="spacingAndGlyphs">48</text>
<line x1="118.34" y1="348.80" x2="118.34" y2="345.80" stroke="#000" stroke-width="1.1"/>
<text x="118.34" y="358.00" font-size="8.3" text-anchor="middle" fill="#262626" textLength="8.6" lengthAdjust="spacingAndGlyphs">72</text>
<line x1="138.12" y1="348.80" x2="138.12" y2="345.80" stroke="#000" stroke-width="1.1"/>
<text x="138.12" y="358.00" font-size="8.3" text-anchor="middle" fill="#262626" textLength="8.6" lengthAdjust="spacingAndGlyphs">96</text>
<line x1="157.90" y1="348.80" x2="157.90" y2="345.80" stroke="#000" stroke-width="1.1"/>
<text x="157.90" y="358.00" font-size="8.3" text-anchor="middle" fill="#262626" textLength="12.9" lengthAdjust="spacingAndGlyphs">120</text>
<line x1="177.68" y1="348.80" x2="177.68" y2="345.80" stroke="#000" stroke-width="1.1"/>
<text x="177.68" y="358.00" font-size="8.3" text-anchor="middle" fill="#262626" textLength="12.9" lengthAdjust="spacingAndGlyphs">144</text>
<line x1="197.47" y1="348.80" x2="197.47" y2="345.80" stroke="#000" stroke-width="1.1"/>
<text x="197.47" y="358.00" font-size="8.3" text-anchor="middle" fill="#262626" textLength="12.9" lengthAdjust="spacingAndGlyphs">168</text>
<line x1="217.25" y1="348.80" x2="217.25" y2="345.80" stroke="#000" stroke-width="1.1"/>
<text x="217.25" y="358.00" font-size="8.3" text-anchor="middle" fill="#262626" textLength="12.9" lengthAdjust="spacingAndGlyphs">192</text>
<text x="117.50" y="370.80" font-size="10.3" text-anchor="start" fill="#222" textLength="48.7" lengthAdjust="spacingAndGlyphs" stroke="#222" stroke-width="0.12">Time (months)</text>
<text x="60.60" y="335.50" font-size="7.6" fill="#333" textLength="29.5" lengthAdjust="spacingAndGlyphs"><tspan font-style="italic">P</tspan> &lt;0.001</text>
<polyline points="59.20,256.80 59.93,256.80 59.93,258.55 61.38,258.55 61.38,260.30 62.10,260.30 62.55,260.30 62.55,261.80 63.45,261.80 63.45,263.30 64.35,263.30 64.35,264.80 65.25,264.80 65.25,266.30 65.70,266.30 66.30,266.30 66.30,267.87 67.50,267.87 67.50,269.43 68.70,269.43 68.70,271.00 69.30,271.00 70.17,271.00 70.17,272.50 71.92,272.50 71.92,274.00 72.80,274.00 73.00,274.00 73.00,275.37 73.40,275.37 73.40,276.73 73.80,276.73 73.80,278.10 74.00,278.10 75.20,278.10 75.20,279.90 76.40,279.90 77.28,279.90 77.28,281.40 79.03,281.40 79.03,282.90 79.90,282.90 80.50,282.90 80.50,284.27 81.70,284.27 81.70,285.63 82.90,285.63 82.90,287.00 83.50,287.00 84.30,287.00 84.30,288.40 85.90,288.40 85.90,289.80 87.50,289.80 87.50,291.20 88.30,291.20 88.70,291.20 88.70,292.57 89.50,292.57 89.50,293.93 90.30,293.93 90.30,295.30 90.70,295.30 91.88,295.30 91.88,297.10 94.23,297.10 94.23,298.90 95.40,298.90 95.80,298.90 95.80,300.30 96.60,300.30 96.60,301.70 97.40,301.70 97.40,303.10 97.80,303.10 99.00,303.10 99.00,304.85 101.40,304.85 101.40,306.60 102.60,306.60 103.32,306.60 103.32,308.40 104.78,308.40 104.78,310.20 105.50,310.20 106.85,310.20 106.85,312.00 109.55,312.00 109.55,313.80 110.90,313.80 111.88,313.80 111.88,315.17 113.85,315.17 113.85,316.53 115.82,316.53 115.82,317.90 116.80,317.90 117.70,317.90 117.70,319.70 119.50,319.70 119.50,321.50 120.40,321.50 121.58,321.50 121.58,322.85 123.92,322.85 123.92,324.20 125.10,324.20 126.28,324.20 126.28,325.75 128.62,325.75 128.62,327.30 129.80,327.30 132.20,327.30 132.20,327.80 134.60,327.80 136.05,327.80 136.05,329.70 137.50,329.70 139.90,329.70 139.90,331.60 142.30,331.60 144.70,331.60 144.70,332.60 147.10,332.60 151.90,332.60 153.35,332.60 153.35,335.00 154.80,335.00 156.75,335.00 156.75,335.50 158.70,335.50 161.10,335.50 161.10,336.90 163.50,336.90 165.40,336.90 165.40,338.40 167.30,338.40 168.65,338.40 168.65,338.90 170.00,338.90 173.80,338.90 174.80,338.90 174.80,339.90 175.80,339.90 178.65,339.90 178.65,340.90 181.50,340.90 183.90,340.90 183.90,342.30 186.30,342.30 188.75,342.30 188.75,343.10 191.20,343.10 193.10,343.10 193.10,343.50 195.00,343.50 208.50,343.50" fill="none" stroke="#c80a28" stroke-width="1.5" stroke-linejoin="round" stroke-linecap="butt"/>
<polyline points="59.80,257.50 60.38,257.50 60.38,258.90 61.52,258.90 61.52,260.30 62.10,260.30 62.55,260.30 62.55,261.80 63.45,261.80 63.45,263.30 64.35,263.30 64.35,264.80 65.25,264.80 65.25,266.30 65.70,266.30 66.30,266.30 66.30,267.87 67.50,267.87 67.50,269.43 68.70,269.43 68.70,271.00 69.30,271.00 70.17,271.00 70.17,272.50 71.92,272.50 71.92,274.00 72.80,274.00 73.00,274.00 73.00,275.37 73.40,275.37 73.40,276.73 73.80,276.73 73.80,278.10 74.00,278.10 74.40,278.10 74.40,279.70 75.20,279.70 75.20,281.30 76.00,281.30 76.00,282.90 76.40,282.90 77.00,282.90 77.00,284.65 78.20,284.65 78.20,286.40 78.80,286.40 79.67,286.40 79.67,288.20 81.42,288.20 81.42,290.00 82.30,290.00 82.46,290.00 82.46,291.77 82.79,291.77 82.79,293.55 83.11,293.55 83.11,295.33 83.44,295.33 83.44,297.10 83.60,297.10 84.08,297.10 84.08,298.70 85.05,298.70 85.05,300.30 86.02,300.30 86.02,301.90 86.50,301.90 88.90,301.90 88.90,303.10 91.30,303.10 92.05,303.10 92.05,304.55 93.55,304.55 93.55,306.00 94.30,306.00 94.88,306.00 94.88,307.40 96.05,307.40 96.05,308.80 97.22,308.80 97.22,310.20 97.80,310.20 98.20,310.20 98.20,311.57 99.00,311.57 99.00,312.93 99.80,312.93 99.80,314.30 100.20,314.30 100.80,314.30 100.80,315.70 102.00,315.70 102.00,317.10 103.20,317.10 103.20,318.50 103.80,318.50 104.38,318.50 104.38,320.00 105.52,320.00 105.52,321.50 106.10,321.50 107.30,321.50 107.30,323.25 109.70,323.25 109.70,325.00 110.90,325.00 113.25,325.00 113.25,326.80 115.60,326.80 118.00,326.80 118.00,329.20 120.40,329.20 121.58,329.20 121.58,330.40 123.92,330.40 123.92,331.60 125.10,331.60 126.28,331.60 126.28,333.05 128.62,333.05 128.62,334.50 129.80,334.50 132.20,334.50 132.20,335.00 134.60,335.00 135.55,335.00 135.55,336.00 136.50,336.00 139.40,336.20 139.65,336.20 139.65,338.40 139.90,338.40 149.00,338.40 150.95,338.40 150.95,339.30 152.90,339.30 155.80,339.30 155.80,340.60 158.70,340.60 160.10,340.60 160.10,342.20 161.50,342.20 170.00,342.30 172.90,342.30 172.90,342.80 175.80,342.80 177.25,342.80 177.25,343.80 178.70,343.80 179.65,343.80 179.65,344.50 180.60,344.50 193.00,344.50 198.80,344.20 199.80,344.20 199.80,344.70 200.80,344.70 201.50,344.70 201.50,345.40 202.20,345.40" fill="none" stroke="#1030b0" stroke-width="1.5" stroke-linejoin="round" stroke-linecap="butt"/>
<line x1="128.70" y1="272.60" x2="141.00" y2="272.60" stroke="#c81e34" stroke-width="1.6"/>
<text x="146.50" y="275.20" font-size="7.8" text-anchor="start" font-style="italic" fill="#1e1e1e" textLength="58.3" lengthAdjust="spacingAndGlyphs" stroke="#1e1e1e" stroke-width="0.15">Subjects without CHIP</text>
<line x1="128.70" y1="284.90" x2="141.00" y2="284.90" stroke="#2a4cbc" stroke-width="1.6"/>
<text x="146.50" y="287.50" font-size="7.8" text-anchor="start" font-style="italic" fill="#1e1e1e" textLength="49.3" lengthAdjust="spacingAndGlyphs" stroke="#1e1e1e" stroke-width="0.15">Subjects with CHIP</text>
<text x="35.10" y="376.40" font-size="8.3" text-anchor="start" fill="#2444bc" textLength="43.8" lengthAdjust="spacingAndGlyphs" stroke="#2444bc" stroke-width="0.2">Number at risk</text>
<text x="16.60" y="387.70" font-size="8.0" text-anchor="start" font-style="italic" fill="#151515" textLength="58.3" lengthAdjust="spacingAndGlyphs" stroke="#151515" stroke-width="0.2">Subjects without CHIP</text>
<text x="90.20" y="387.10" font-size="6.8" text-anchor="middle" fill="#2a2a2a" stroke="#2a2a2a" stroke-width="0.08">545</text>
<text x="107.90" y="387.10" font-size="6.8" text-anchor="middle" fill="#2a2a2a" stroke="#2a2a2a" stroke-width="0.08">385</text>
<text x="125.60" y="387.10" font-size="6.8" text-anchor="middle" fill="#2a2a2a" stroke="#2a2a2a" stroke-width="0.08">256</text>
<text x="143.30" y="387.10" font-size="6.8" text-anchor="middle" fill="#2a2a2a" stroke="#2a2a2a" stroke-width="0.08">165</text>
<text x="161.00" y="387.10" font-size="6.8" text-anchor="middle" fill="#2a2a2a" stroke="#2a2a2a" stroke-width="0.08">95</text>
<text x="178.70" y="387.10" font-size="6.8" text-anchor="middle" fill="#2a2a2a" stroke="#2a2a2a" stroke-width="0.08">61</text>
<text x="196.40" y="387.10" font-size="6.8" text-anchor="middle" fill="#2a2a2a" stroke="#2a2a2a" stroke-width="0.08">35</text>
<text x="214.10" y="387.10" font-size="6.8" text-anchor="middle" fill="#2a2a2a" stroke="#2a2a2a" stroke-width="0.08">6</text>
<text x="231.80" y="387.10" font-size="6.8" text-anchor="middle" fill="#2a2a2a" stroke="#2a2a2a" stroke-width="0.08">0</text>
<text x="16.60" y="399.30" font-size="8.0" text-anchor="start" font-style="italic" fill="#151515" textLength="49.6" lengthAdjust="spacingAndGlyphs" stroke="#151515" stroke-width="0.2">Subjects with CHIP</text>
<text x="90.20" y="398.70" font-size="6.8" text-anchor="middle" fill="#2a2a2a" stroke="#2a2a2a" stroke-width="0.08">190</text>
<text x="107.90" y="398.70" font-size="6.8" text-anchor="middle" fill="#2a2a2a" stroke="#2a2a2a" stroke-width="0.08">126</text>
<text x="125.60" y="398.70" font-size="6.8" text-anchor="middle" fill="#2a2a2a" stroke="#2a2a2a" stroke-width="0.08">71</text>
<text x="143.30" y="398.70" font-size="6.8" text-anchor="middle" fill="#2a2a2a" stroke="#2a2a2a" stroke-width="0.08">37</text>
<text x="161.00" y="398.70" font-size="6.8" text-anchor="middle" fill="#2a2a2a" stroke="#2a2a2a" stroke-width="0.08">17</text>
<text x="178.70" y="398.70" font-size="6.8" text-anchor="middle" fill="#2a2a2a" stroke="#2a2a2a" stroke-width="0.08">10</text>
<text x="196.40" y="398.70" font-size="6.8" text-anchor="middle" fill="#2a2a2a" stroke="#2a2a2a" stroke-width="0.08">5</text>
<text x="214.10" y="398.70" font-size="6.8" text-anchor="middle" fill="#2a2a2a" stroke="#2a2a2a" stroke-width="0.08">2</text>
<text x="231.80" y="398.70" font-size="6.8" text-anchor="middle" fill="#2a2a2a" stroke="#2a2a2a" stroke-width="0.08">0</text>
<text x="58.70" y="234.40" font-size="10.1" text-anchor="start" font-style="italic" fill="#1e1e1e" textLength="165.3" lengthAdjust="spacingAndGlyphs">Probability of survival according to the</text>
<text x="49.20" y="246.00" font-size="10.1" text-anchor="start" font-style="italic" fill="#1e1e1e" textLength="186.8" lengthAdjust="spacingAndGlyphs">presence of CHIP in “Monzino_80+” cohort</text>
<text x="6.40" y="227.00" font-size="11.4" text-anchor="start" font-weight="bold" fill="#000" textLength="9.6" lengthAdjust="spacingAndGlyphs" stroke="#000" stroke-width="0.25">C</text>
<line x1="311.20" y1="258.70" x2="311.20" y2="349.75" stroke="#000" stroke-width="1.5"/>
<line x1="310.45" y1="349.00" x2="485.40" y2="349.00" stroke="#000" stroke-width="1.5"/>
<line x1="311.20" y1="346.00" x2="314.20" y2="346.00" stroke="#000" stroke-width="1.1"/>
<text x="308.40" y="348.60" font-size="8.3" text-anchor="end" fill="#262626" textLength="4.2" lengthAdjust="spacingAndGlyphs">0</text>
<line x1="311.20" y1="337.50" x2="314.20" y2="337.50" stroke="#000" stroke-width="1.1"/>
<text x="308.40" y="340.10" font-size="8.3" text-anchor="end" fill="#262626" textLength="8.6" lengthAdjust="spacingAndGlyphs">10</text>
<line x1="311.20" y1="329.00" x2="314.20" y2="329.00" stroke="#000" stroke-width="1.1"/>
<text x="308.40" y="331.60" font-size="8.3" text-anchor="end" fill="#262626" textLength="8.6" lengthAdjust="spacingAndGlyphs">20</text>
<line x1="311.20" y1="320.50" x2="314.20" y2="320.50" stroke="#000" stroke-width="1.1"/>
<text x="308.40" y="323.10" font-size="8.3" text-anchor="end" fill="#262626" textLength="8.6" lengthAdjust="spacingAndGlyphs">30</text>
<line x1="311.20" y1="312.00" x2="314.20" y2="312.00" stroke="#000" stroke-width="1.1"/>
<text x="308.40" y="314.60" font-size="8.3" text-anchor="end" fill="#262626" textLength="8.6" lengthAdjust="spacingAndGlyphs">40</text>
<line x1="311.20" y1="303.50" x2="314.20" y2="303.50" stroke="#000" stroke-width="1.1"/>
<text x="308.40" y="306.10" font-size="8.3" text-anchor="end" fill="#262626" textLength="8.6" lengthAdjust="spacingAndGlyphs">50</text>
<line x1="311.20" y1="295.00" x2="314.20" y2="295.00" stroke="#000" stroke-width="1.1"/>
<text x="308.40" y="297.60" font-size="8.3" text-anchor="end" fill="#262626" textLength="8.6" lengthAdjust="spacingAndGlyphs">60</text>
<line x1="311.20" y1="286.50" x2="314.20" y2="286.50" stroke="#000" stroke-width="1.1"/>
<text x="308.40" y="289.10" font-size="8.3" text-anchor="end" fill="#262626" textLength="8.6" lengthAdjust="spacingAndGlyphs">70</text>
<line x1="311.20" y1="278.00" x2="314.20" y2="278.00" stroke="#000" stroke-width="1.1"/>
<text x="308.40" y="280.60" font-size="8.3" text-anchor="end" fill="#262626" textLength="8.6" lengthAdjust="spacingAndGlyphs">80</text>
<line x1="311.20" y1="269.50" x2="314.20" y2="269.50" stroke="#000" stroke-width="1.1"/>
<text x="308.40" y="272.10" font-size="8.3" text-anchor="end" fill="#262626" textLength="8.6" lengthAdjust="spacingAndGlyphs">90</text>
<line x1="311.20" y1="261.00" x2="314.20" y2="261.00" stroke="#000" stroke-width="1.1"/>
<text x="308.40" y="263.60" font-size="8.3" text-anchor="end" fill="#262626" textLength="13.0" lengthAdjust="spacingAndGlyphs">100</text>
<line x1="311.20" y1="341.75" x2="312.60" y2="341.75" stroke="#000" stroke-width="1.0"/>
<line x1="311.20" y1="333.25" x2="312.60" y2="333.25" stroke="#000" stroke-width="1.0"/>
<line x1="311.20" y1="324.75" x2="312.60" y2="324.75" stroke="#000" stroke-width="1.0"/>
<line x1="311.20" y1="316.25" x2="312.60" y2="316.25" stroke="#000" stroke-width="1.0"/>
<line x1="311.20" y1="307.75" x2="312.60" y2="307.75" stroke="#000" stroke-width="1.0"/>
<line x1="311.20" y1="299.25" x2="312.60" y2="299.25" stroke="#000" stroke-width="1.0"/>
<line x1="311.20" y1="290.75" x2="312.60" y2="290.75" stroke="#000" stroke-width="1.0"/>
<line x1="311.20" y1="282.25" x2="312.60" y2="282.25" stroke="#000" stroke-width="1.0"/>
<line x1="311.20" y1="273.75" x2="312.60" y2="273.75" stroke="#000" stroke-width="1.0"/>
<line x1="311.20" y1="265.25" x2="312.60" y2="265.25" stroke="#000" stroke-width="1.0"/>
<line x1="314.90" y1="349.00" x2="314.90" y2="346.00" stroke="#000" stroke-width="1.1"/>
<text x="314.90" y="358.00" font-size="8.3" text-anchor="middle" fill="#262626" textLength="4.2" lengthAdjust="spacingAndGlyphs">0</text>
<line x1="335.80" y1="349.00" x2="335.80" y2="346.00" stroke="#000" stroke-width="1.1"/>
<text x="335.80" y="358.00" font-size="8.3" text-anchor="middle" fill="#262626" textLength="8.6" lengthAdjust="spacingAndGlyphs">24</text>
<line x1="356.70" y1="349.00" x2="356.70" y2="346.00" stroke="#000" stroke-width="1.1"/>
<text x="356.70" y="358.00" font-size="8.3" text-anchor="middle" fill="#262626" textLength="8.6" lengthAdjust="spacingAndGlyphs">48</text>
<line x1="377.60" y1="349.00" x2="377.60" y2="346.00" stroke="#000" stroke-width="1.1"/>
<text x="377.60" y="358.00" font-size="8.3" text-anchor="middle" fill="#262626" textLength="8.6" lengthAdjust="spacingAndGlyphs">72</text>
<line x1="398.50" y1="349.00" x2="398.50" y2="346.00" stroke="#000" stroke-width="1.1"/>
<text x="398.50" y="358.00" font-size="8.3" text-anchor="middle" fill="#262626" textLength="8.6" lengthAdjust="spacingAndGlyphs">96</text>
<line x1="419.40" y1="349.00" x2="419.40" y2="346.00" stroke="#000" stroke-width="1.1"/>
<text x="419.40" y="358.00" font-size="8.3" text-anchor="middle" fill="#262626" textLength="12.9" lengthAdjust="spacingAndGlyphs">120</text>
<line x1="440.30" y1="349.00" x2="440.30" y2="346.00" stroke="#000" stroke-width="1.1"/>
<text x="440.30" y="358.00" font-size="8.3" text-anchor="middle" fill="#262626" textLength="12.9" lengthAdjust="spacingAndGlyphs">144</text>
<line x1="461.19" y1="349.00" x2="461.19" y2="346.00" stroke="#000" stroke-width="1.1"/>
<text x="461.19" y="358.00" font-size="8.3" text-anchor="middle" fill="#262626" textLength="12.9" lengthAdjust="spacingAndGlyphs">168</text>
<line x1="482.09" y1="349.00" x2="482.09" y2="346.00" stroke="#000" stroke-width="1.1"/>
<text x="482.09" y="358.00" font-size="8.3" text-anchor="middle" fill="#262626" textLength="12.9" lengthAdjust="spacingAndGlyphs">192</text>
<text x="373.10" y="370.80" font-size="10.3" text-anchor="start" fill="#222" textLength="49.2" lengthAdjust="spacingAndGlyphs" stroke="#222" stroke-width="0.12">Time (months)</text>
<text x="320.20" y="336.60" font-size="7.6" fill="#333" textLength="29.3" lengthAdjust="spacingAndGlyphs"><tspan font-style="italic">P</tspan> &lt;0.001</text>
<polyline points="314.30,261.20 315.12,261.20 315.12,262.55 316.78,262.55 316.78,263.90 317.60,263.90 318.33,263.90 318.33,265.55 319.77,265.55 319.77,267.20 320.50,267.20 321.20,267.20 321.20,269.10 322.60,269.10 322.60,271.00 323.30,271.00 323.73,271.00 323.73,272.60 324.57,272.60 324.57,274.20 325.00,274.20 325.60,274.20 325.60,275.82 326.80,275.82 326.80,277.45 328.00,277.45 328.00,279.07 329.20,279.07 329.20,280.70 329.80,280.70 330.68,280.70 330.68,282.20 332.43,282.20 332.43,283.70 333.30,283.70 334.10,283.70 334.10,285.27 335.70,285.27 335.70,286.83 337.30,286.83 337.30,288.40 338.10,288.40 338.88,288.40 338.88,290.00 340.45,290.00 340.45,291.60 342.02,291.60 342.02,293.20 342.80,293.20 343.60,293.20 343.60,294.57 345.20,294.57 345.20,295.93 346.80,295.93 346.80,297.30 347.60,297.30 348.23,297.30 348.23,298.65 349.48,298.65 349.48,300.00 350.10,300.00 351.15,300.00 351.15,301.80 353.25,301.80 353.25,303.60 354.30,303.60 355.08,303.60 355.08,305.17 356.65,305.17 356.65,306.73 358.22,306.73 358.22,308.30 359.00,308.30 359.80,308.30 359.80,309.70 361.40,309.70 361.40,311.10 363.00,311.10 363.00,312.50 363.80,312.50 365.27,312.50 365.27,314.25 368.23,314.25 368.23,316.00 369.70,316.00 372.05,316.00 372.05,317.80 374.40,317.80 376.20,317.80 376.20,320.20 378.00,320.20 378.90,320.20 378.90,321.40 380.70,321.40 380.70,322.60 381.60,322.60 382.78,322.60 382.78,324.05 385.12,324.05 385.12,325.50 386.30,325.50 388.05,325.50 388.05,327.30 389.80,327.30 392.20,327.30 392.20,329.20 394.60,329.20 397.00,329.20 397.00,330.20 399.40,330.20 401.10,330.20 401.10,332.30 402.80,332.30 404.95,332.30 404.95,332.90 407.10,332.90 411.90,333.10 413.85,333.10 413.85,334.80 415.80,334.80 417.70,334.80 417.70,335.50 419.60,335.50 421.55,335.50 421.55,337.40 423.50,337.40 425.90,337.40 425.90,338.10 428.30,338.10 432.05,338.10 432.05,339.00 435.80,339.00 438.65,339.00 438.65,339.80 441.50,339.80 444.40,339.80 444.40,340.80 447.30,340.80 449.05,340.80 449.05,341.90 450.80,341.90 452.50,341.90 452.50,343.10 454.20,343.10 455.95,343.10 455.95,343.90 457.70,343.90 472.70,344.00" fill="none" stroke="#c80a28" stroke-width="1.5" stroke-linejoin="round" stroke-linecap="butt"/>
<polyline points="314.30,261.20 315.12,261.20 315.12,262.55 316.78,262.55 316.78,263.90 317.60,263.90 318.33,263.90 318.33,265.55 319.77,265.55 319.77,267.20 320.50,267.20 321.20,267.20 321.20,269.10 322.60,269.10 322.60,271.00 323.30,271.00 323.73,271.00 323.73,272.60 324.57,272.60 324.57,274.20 325.00,274.20 325.80,274.20 325.80,275.77 327.40,275.77 327.40,277.33 329.00,277.33 329.00,278.90 329.80,278.90 329.98,278.90 329.98,280.50 330.35,280.50 330.35,282.10 330.72,282.10 330.72,283.70 330.90,283.70 331.50,283.70 331.50,285.47 332.70,285.47 332.70,287.23 333.90,287.23 333.90,289.00 334.50,289.00 335.10,289.00 335.10,290.77 336.30,290.77 336.30,292.55 337.50,292.55 337.50,294.33 338.70,294.33 338.70,296.10 339.30,296.10 339.88,296.10 339.88,297.70 341.05,297.70 341.05,299.30 342.22,299.30 342.22,300.90 342.80,300.90 343.70,300.90 343.70,302.35 345.50,302.35 345.50,303.80 346.40,303.80 347.85,303.80 347.85,305.00 349.30,305.00 349.60,305.00 349.60,306.80 350.20,306.80 350.20,308.60 350.50,308.60 351.55,308.60 351.55,310.10 353.65,310.10 353.65,311.60 354.70,311.60 355.30,311.60 355.30,312.97 356.50,312.97 356.50,314.33 357.70,314.33 357.70,315.70 358.30,315.70 358.65,315.70 358.65,317.80 359.00,317.80 359.90,317.80 359.90,319.60 361.70,319.60 361.70,321.40 362.60,321.40 363.48,321.40 363.48,322.85 365.23,322.85 365.23,324.30 366.10,324.30 368.50,324.30 368.50,326.70 370.90,326.70 373.25,326.70 373.25,328.50 375.60,328.50 378.00,328.50 378.00,330.30 380.40,330.30 381.57,330.30 381.57,331.85 383.93,331.85 383.93,333.40 385.10,333.40 386.95,333.40 386.95,335.00 388.80,335.00 392.70,335.20 394.15,335.20 394.15,336.40 395.60,336.40 397.50,336.40 397.50,337.10 399.40,337.10 399.90,337.10 399.90,338.40 400.40,338.40 404.20,338.40 405.65,338.40 405.65,339.30 407.10,339.30 410.00,339.30 410.00,340.30 412.90,340.30 414.80,340.30 414.80,341.70 416.70,341.70 434.60,341.50 436.35,341.50 436.35,343.10 438.10,343.10 439.80,343.10 439.80,344.20 441.50,344.20 465.80,344.20" fill="none" stroke="#1030b0" stroke-width="1.5" stroke-linejoin="round" stroke-linecap="butt"/>
<polyline points="314.30,261.20 314.85,261.20 314.85,262.90 315.95,262.90 315.95,264.60 317.05,264.60 317.05,266.30 317.60,266.30 317.85,266.30 317.85,267.95 318.35,267.95 318.35,269.60 318.60,269.60 319.55,269.60 319.55,271.00 320.50,271.00 320.73,271.00 320.73,272.95 321.17,272.95 321.17,274.90 321.40,274.90 322.35,274.90 322.35,277.20 323.30,277.20 323.58,277.20 323.58,278.57 324.15,278.57 324.15,279.93 324.72,279.93 324.72,281.30 325.00,281.30 325.60,281.30 325.60,283.07 326.80,283.07 326.80,284.83 328.00,284.83 328.00,286.60 328.60,286.60 329.18,286.60 329.18,288.00 330.35,288.00 330.35,289.40 331.52,289.40 331.52,290.80 332.10,290.80 332.70,290.80 332.70,292.17 333.90,292.17 333.90,293.53 335.10,293.53 335.10,294.90 335.70,294.90 336.60,294.90 336.60,296.10 338.40,296.10 338.40,297.30 339.30,297.30 339.36,297.30 339.36,298.80 339.49,298.80 339.49,300.30 339.61,300.30 339.61,301.80 339.74,301.80 339.74,303.30 339.80,303.30 340.03,303.30 340.03,304.73 340.48,304.73 340.48,306.15 340.93,306.15 340.93,307.57 341.38,307.57 341.38,309.00 341.60,309.00 342.00,309.00 342.00,311.30 342.40,311.30 342.80,311.30 342.80,312.67 343.60,312.67 343.60,314.03 344.40,314.03 344.40,315.40 344.80,315.40 345.98,315.40 345.98,316.60 348.32,316.60 348.32,317.80 349.50,317.80 351.30,317.80 351.30,319.60 353.10,319.60 353.33,319.60 353.33,321.26 353.79,321.26 353.79,322.92 354.25,322.92 354.25,324.58 354.71,324.58 354.71,326.24 355.17,326.24 355.17,327.90 355.40,327.90 357.80,327.90 357.80,328.50 360.20,328.50 360.80,328.50 360.80,329.90 362.00,329.90 362.00,331.30 363.20,331.30 363.20,332.70 363.80,332.70 364.98,332.70 364.98,334.15 367.32,334.15 367.32,335.60 368.50,335.60 369.40,335.60 369.40,337.10 371.20,337.10 371.20,338.60 372.10,338.60 375.05,338.60 375.05,339.20 378.00,339.20 379.20,339.20 379.20,340.40 381.60,340.40 381.60,341.60 382.80,341.60 384.27,341.60 384.27,343.35 387.23,343.35 387.23,345.10 388.70,345.10" fill="none" stroke="#3cf01a" stroke-width="1.5" stroke-linejoin="round" stroke-linecap="butt"/>
<line x1="376.80" y1="261.80" x2="389.00" y2="261.80" stroke="#c81e34" stroke-width="1.6"/>
<text x="393.80" y="264.40" font-size="7.8" text-anchor="start" font-style="italic" fill="#1e1e1e" textLength="70.4" lengthAdjust="spacingAndGlyphs" stroke="#1e1e1e" stroke-width="0.15">Subjects without mutations</text>
<line x1="376.80" y1="274.20" x2="389.00" y2="274.20" stroke="#2a4cbc" stroke-width="1.6"/>
<text x="393.80" y="276.80" font-size="7.8" text-anchor="start" font-style="italic" fill="#1e1e1e" textLength="63.9" lengthAdjust="spacingAndGlyphs" stroke="#1e1e1e" stroke-width="0.15">Subjects with 1 mutation</text>
<line x1="376.80" y1="284.80" x2="389.00" y2="284.80" stroke="#40f020" stroke-width="1.6"/>
<text x="393.80" y="287.40" font-size="7.8" text-anchor="start" font-style="italic" fill="#1e1e1e" textLength="88.6" lengthAdjust="spacingAndGlyphs" stroke="#1e1e1e" stroke-width="0.15">Subjects with 2 or more mutations</text>
<text x="291.10" y="376.80" font-size="8.3" text-anchor="start" fill="#2444bc" textLength="44.4" lengthAdjust="spacingAndGlyphs" stroke="#2444bc" stroke-width="0.2">Number at risk</text>
<text x="271.00" y="388.00" font-size="8.0" text-anchor="start" font-style="italic" fill="#151515" textLength="70.9" lengthAdjust="spacingAndGlyphs" stroke="#151515" stroke-width="0.2">Subjects without mutations</text>
<text x="361.90" y="387.40" font-size="6.8" text-anchor="middle" fill="#2a2a2a" stroke="#2a2a2a" stroke-width="0.08">545</text>
<text x="380.55" y="387.40" font-size="6.8" text-anchor="middle" fill="#2a2a2a" stroke="#2a2a2a" stroke-width="0.08">385</text>
<text x="399.20" y="387.40" font-size="6.8" text-anchor="middle" fill="#2a2a2a" stroke="#2a2a2a" stroke-width="0.08">255</text>
<text x="417.85" y="387.40" font-size="6.8" text-anchor="middle" fill="#2a2a2a" stroke="#2a2a2a" stroke-width="0.08">164</text>
<text x="436.50" y="387.40" font-size="6.8" text-anchor="middle" fill="#2a2a2a" stroke="#2a2a2a" stroke-width="0.08">95</text>
<text x="455.15" y="387.40" font-size="6.8" text-anchor="middle" fill="#2a2a2a" stroke="#2a2a2a" stroke-width="0.08">61</text>
<text x="473.80" y="387.40" font-size="6.8" text-anchor="middle" fill="#2a2a2a" stroke="#2a2a2a" stroke-width="0.08">35</text>
<text x="492.45" y="387.40" font-size="6.8" text-anchor="middle" fill="#2a2a2a" stroke="#2a2a2a" stroke-width="0.08">6</text>
<text x="511.10" y="387.40" font-size="6.8" text-anchor="middle" fill="#2a2a2a" stroke="#2a2a2a" stroke-width="0.08">0</text>
<text x="271.00" y="399.40" font-size="8.0" text-anchor="start" font-style="italic" fill="#151515" textLength="64.5" lengthAdjust="spacingAndGlyphs" stroke="#151515" stroke-width="0.2">Subjects with 1 mutation</text>
<text x="361.90" y="398.80" font-size="6.8" text-anchor="middle" fill="#2a2a2a" stroke="#2a2a2a" stroke-width="0.08">143</text>
<text x="380.55" y="398.80" font-size="6.8" text-anchor="middle" fill="#2a2a2a" stroke="#2a2a2a" stroke-width="0.08">93</text>
<text x="399.20" y="398.80" font-size="6.8" text-anchor="middle" fill="#2a2a2a" stroke="#2a2a2a" stroke-width="0.08">53</text>
<text x="417.85" y="398.80" font-size="6.8" text-anchor="middle" fill="#2a2a2a" stroke="#2a2a2a" stroke-width="0.08">27</text>
<text x="436.50" y="398.80" font-size="6.8" text-anchor="middle" fill="#2a2a2a" stroke="#2a2a2a" stroke-width="0.08">13</text>
<text x="455.15" y="398.80" font-size="6.8" text-anchor="middle" fill="#2a2a2a" stroke="#2a2a2a" stroke-width="0.08">7</text>
<text x="473.80" y="398.80" font-size="6.8" text-anchor="middle" fill="#2a2a2a" stroke="#2a2a2a" stroke-width="0.08">4</text>
<text x="492.45" y="398.80" font-size="6.8" text-anchor="middle" fill="#2a2a2a" stroke="#2a2a2a" stroke-width="0.08">2</text>
<text x="511.10" y="398.80" font-size="6.8" text-anchor="middle" fill="#2a2a2a" stroke="#2a2a2a" stroke-width="0.08">0</text>
<text x="271.00" y="410.80" font-size="8.0" text-anchor="start" font-style="italic" fill="#151515" textLength="66.8" lengthAdjust="spacingAndGlyphs" stroke="#151515" stroke-width="0.2">Subjects with 2 mutations</text>
<text x="361.90" y="410.20" font-size="6.8" text-anchor="middle" fill="#2a2a2a" stroke="#2a2a2a" stroke-width="0.08">47</text>
<text x="380.55" y="410.20" font-size="6.8" text-anchor="middle" fill="#2a2a2a" stroke="#2a2a2a" stroke-width="0.08">28</text>
<text x="399.20" y="410.20" font-size="6.8" text-anchor="middle" fill="#2a2a2a" stroke="#2a2a2a" stroke-width="0.08">10</text>
<text x="417.85" y="410.20" font-size="6.8" text-anchor="middle" fill="#2a2a2a" stroke="#2a2a2a" stroke-width="0.08">4</text>
<text x="436.50" y="410.20" font-size="6.8" text-anchor="middle" fill="#2a2a2a" stroke="#2a2a2a" stroke-width="0.08">0</text>
<text x="455.15" y="410.20" font-size="6.8" text-anchor="middle" fill="#2a2a2a" stroke="#2a2a2a" stroke-width="0.08">0</text>
<text x="473.80" y="410.20" font-size="6.8" text-anchor="middle" fill="#2a2a2a" stroke="#2a2a2a" stroke-width="0.08">0</text>
<text x="492.45" y="410.20" font-size="6.8" text-anchor="middle" fill="#2a2a2a" stroke="#2a2a2a" stroke-width="0.08">0</text>
<text x="511.10" y="410.20" font-size="6.8" text-anchor="middle" fill="#2a2a2a" stroke="#2a2a2a" stroke-width="0.08">0</text>
<text x="296.20" y="233.90" font-size="10.1" text-anchor="start" font-style="italic" fill="#1e1e1e" textLength="202.9" lengthAdjust="spacingAndGlyphs">Probability of survival according to the number</text>
<text x="321.10" y="245.50" font-size="10.1" text-anchor="start" font-style="italic" fill="#1e1e1e" textLength="155.5" lengthAdjust="spacingAndGlyphs">of variants in “Monzino_80+” cohort</text>
<text x="261.80" y="226.60" font-size="11.4" text-anchor="start" font-weight="bold" fill="#000" textLength="9.4" lengthAdjust="spacingAndGlyphs" stroke="#000" stroke-width="0.25">D</text>
<rect x="0.6" y="0.6" width="518.2" height="418.9" fill="none" stroke="#000" stroke-width="1.3"/>
<line x1="519" y1="0" x2="519" y2="421" stroke="#000" stroke-width="2"/>
<line x1="0" y1="420" x2="520" y2="420" stroke="#000" stroke-width="2"/>
</svg>
</body></html>
